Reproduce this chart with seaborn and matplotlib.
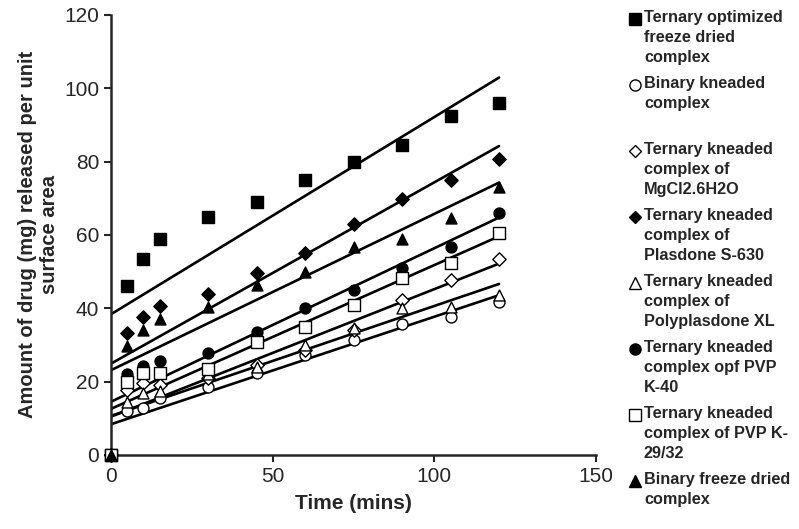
import numpy as np
import matplotlib
matplotlib.use("Agg")
import matplotlib.pyplot as plt
from matplotlib.lines import Line2D
import seaborn as sns

sns.set_style("ticks")
plt.rcParams['font.family'] = ['Liberation Sans', 'DejaVu Sans']

# time points (mins)
time = [0, 5, 10, 15, 30, 45, 60, 75, 90, 105, 120]

# amount released per unit surface area
opt_freeze_dried = [0, 46, 53.5, 59, 65, 69, 75, 80, 84.5, 92.5, 96]
binary_kneaded = [0, 12, 12.7, 15.5, 18.5, 22.4, 27.3, 31.4, 35.7, 37.7, 41.6]
kneaded_mgcl = [0, 17.7, 19.5, 19.1, 21, 24.5, 28.5, 34, 42.3, 47.7, 53.5]
kneaded_plasdone = [0, 33.2, 37.5, 40.6, 43.9, 49.5, 55, 63, 69.8, 75, 80.8]
kneaded_polyplasdone = [0, 14.5, 17, 17.5, 22, 24, 30, 34.5, 40, 40.4, 43.6]
kneaded_pvp_k40 = [0, 22.2, 24.2, 25.5, 27.8, 33.5, 40, 45, 50.9, 56.8, 66]
kneaded_pvp_k29 = [0, 20, 22.3, 22.3, 23.5, 30.7, 35, 40.9, 48.3, 52.3, 60.6]
binary_freeze_dried = [0, 29.7, 34.1, 37, 40.3, 46.4, 50, 56.8, 59, 64.5, 73]

labels = [
    "Ternary optimized\nfreeze dried\ncomplex",
    "Binary kneaded\ncomplex",
    "Ternary kneaded\ncomplex of\nMgCl2.6H2O",
    "Ternary kneaded\ncomplex of\nPlasdone S-630",
    "Ternary kneaded\ncomplex of\nPolyplasdone XL",
    "Ternary kneaded\ncomplex opf PVP\nK-40",
    "Ternary kneaded\ncomplex of PVP K-\n29/32",
    "Binary freeze dried\ncomplex",
]
series = [opt_freeze_dried, binary_kneaded, kneaded_mgcl, kneaded_plasdone,
          kneaded_polyplasdone, kneaded_pvp_k40, kneaded_pvp_k29, binary_freeze_dried]
markers = ['s', 'o', 'D', 'D', '^', 'o', 's', '^']
filled = [True, False, False, True, False, True, False, True]
sizes = [72, 62, 46, 46, 62, 62, 72, 62]

W, H = 799, 529
fig = plt.figure(figsize=(W / 100, H / 100), dpi=100)
ax = fig.add_axes([0.139, 0.140, 0.607, 0.832])

for y, m, f, s in zip(series, markers, filled, sizes):
    sns.regplot(x=np.array(time), y=np.array(y), scatter=False, ci=None, ax=ax,
                line_kws=dict(color='black', lw=1.9, zorder=2))
    sns.scatterplot(x=time, y=y, marker=m, s=s, ax=ax, zorder=3, clip_on=False,
                    color='black' if f else 'white', edgecolor='black', linewidth=1)

ax.set_xlim(0, 150)
ax.set_ylim(0, 120)
ax.set_xticks([0, 50, 100, 150])
ax.set_yticks(range(0, 121, 20))
ax.tick_params(labelsize=15, length=5, width=1.5, direction='out')
for sp in ['left', 'bottom']:
    ax.spines[sp].set_linewidth(1.8)
sns.despine(ax=ax)

ax.set_xlabel("Time (mins)", fontsize=15, fontweight='bold', labelpad=6)
ax.set_ylabel("Amount of drug (mg) released per unit\nsurface area",
              fontsize=14.5, fontweight='bold', labelpad=4)

# legend drawn by hand so markers sit beside the first line of each entry
for i, (lab, m, f) in enumerate(zip(labels, markers, filled)):
    yc = 1 - (10 + 66 * i) / H
    fig.text(644 / W, yc, lab, ha='left', va='top', fontsize=11.7,
             fontweight='bold', linespacing=1.42, transform=fig.transFigure)
    fig.add_artist(Line2D([635 / W], [yc - 9 / H], transform=fig.transFigure,
                          ls='none', marker=m, markersize=8 if m != 'D' else 6.5,
                          markerfacecolor='black' if f else 'white',
                          markeredgecolor='black', markeredgewidth=1))

fig.savefig("out.png", dpi=100)
